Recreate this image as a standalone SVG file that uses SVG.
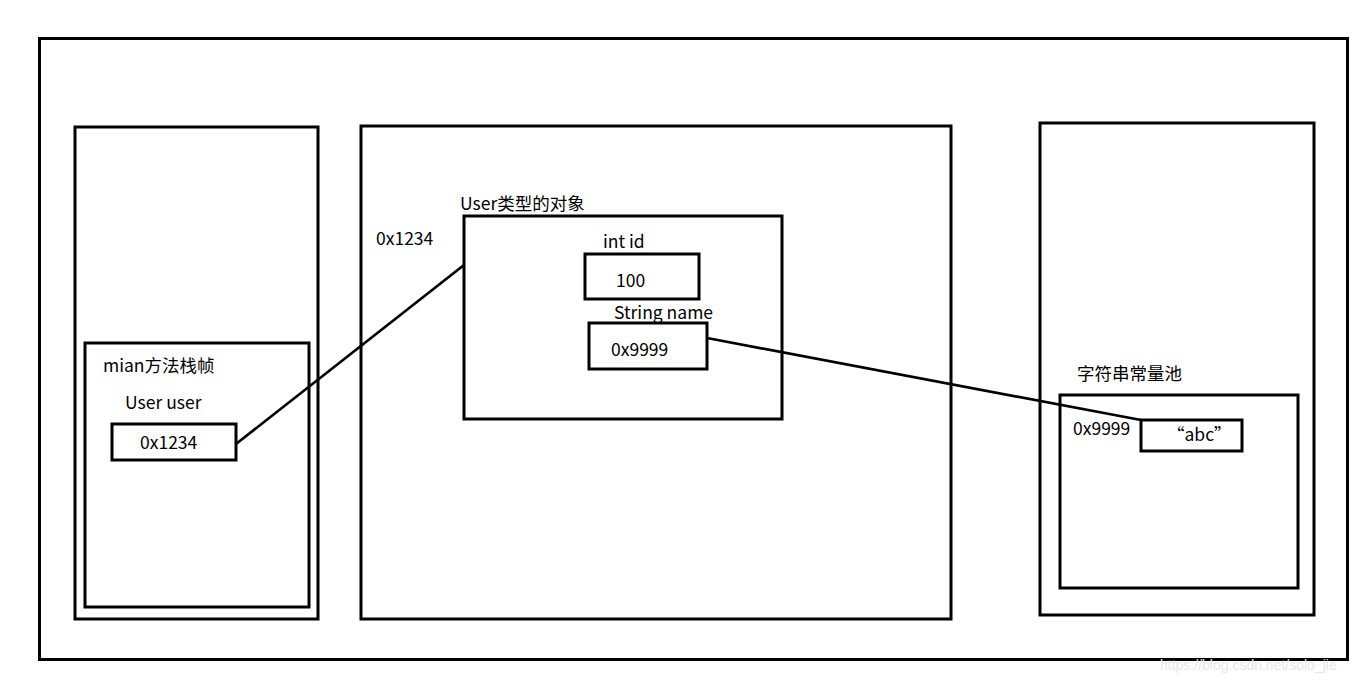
<svg xmlns="http://www.w3.org/2000/svg" width="1369" height="683" viewBox="0 0 1369 683">
<style>
rect{fill:none;stroke:#000;stroke-width:3}
text{font-family:"Microsoft YaHei","Noto Sans CJK SC","Noto Sans",sans-serif;font-size:17.5px;fill:#000}
.wm{font-family:"Liberation Sans",Arial,sans-serif;font-size:14px;fill:#e6e6e6}
</style>
<rect x="0" y="0" width="1369" height="683" style="fill:#fff;stroke:none"/>
<g id="outer"><rect x="39.5" y="38.5" width="1308" height="621"/></g>
<g id="stack">
<rect x="75" y="127" width="243" height="492"/>
</g>
<g id="main-frame">
<rect x="85" y="343" width="224" height="264"/>
<text x="103" y="372">mian方法栈帧</text>
<text x="125" y="409">User user</text>
</g>
<g id="user-ref">
<rect x="112" y="424" width="124" height="36"/>
<text x="140" y="449">0x1234</text>
</g>
<g id="heap">
<rect x="361" y="126" width="590" height="493"/>
<text x="376" y="245">0x1234</text>
</g>
<g id="user-object">
<rect x="464" y="216" width="318" height="203"/>
<text x="460" y="210">User类型的对象</text>
</g>
<g id="id-field">
<text x="603" y="248">int id</text>
<rect x="585" y="254" width="114" height="45"/>
<text x="616" y="287">100</text>
</g>
<g id="name-field">
<text x="614" y="319">String name</text>
<rect x="589" y="323" width="118" height="46"/>
<text x="611" y="356">0x9999</text>
</g>
<g id="method-area">
<rect x="1040" y="123" width="274" height="492"/>
</g>
<g id="string-pool">
<text x="1077" y="380">字符串常量池</text>
<rect x="1060" y="395" width="238" height="193"/>
<text x="1073" y="435">0x9999</text>
</g>
<g id="abc">
<rect x="1141" y="420" width="101" height="31"/>
<text x="1167" y="441">“abc”</text>
</g>
<g id="connectors" fill="none" stroke="#000" stroke-width="2.7">
<line x1="236" y1="444" x2="464" y2="265"/>
<line x1="707" y1="338" x2="1141" y2="420"/>
</g>
<text class="wm" x="1160" y="670">https://blog.csdn.net/solo_jie</text>
</svg>
